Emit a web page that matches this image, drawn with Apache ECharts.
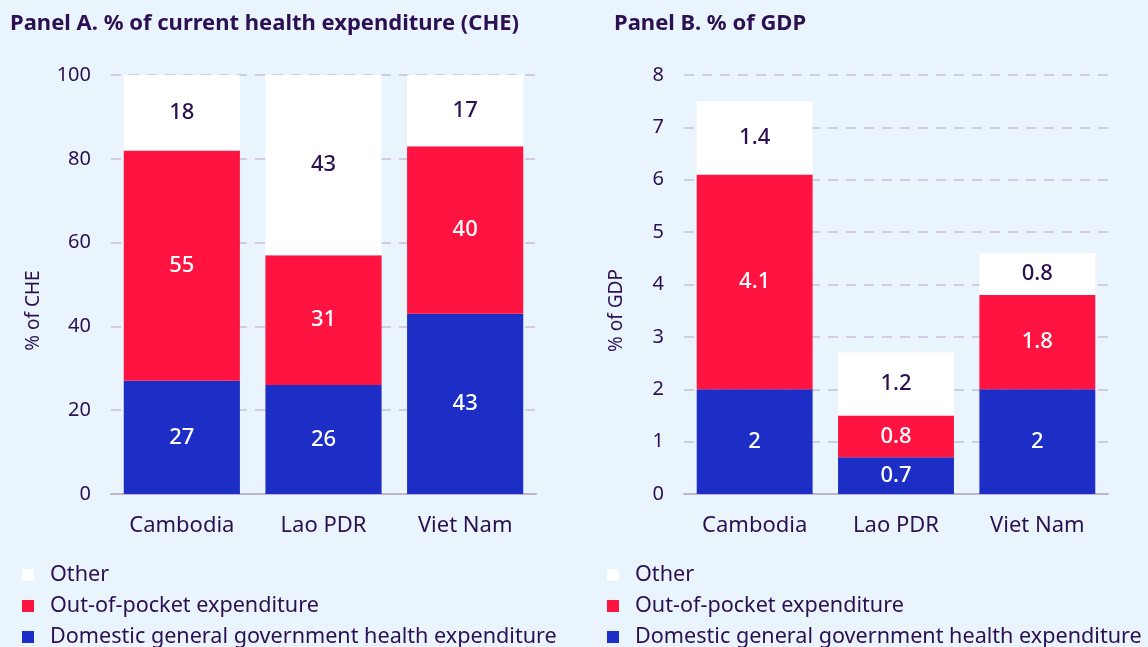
<!DOCTYPE html>
<html>
<head>
<meta charset="utf-8">
<script src="https://cdn.jsdelivr.net/npm/echarts@6/dist/echarts.min.js"></script>
<style>
  html, body { margin: 0; padding: 0; background: #eaf4fd; }
  #charts { width: 1148px; height: 647px; }
</style>
</head>
<body>
<div id="charts"></div>
<script>
var countries = ['Cambodia', 'Lao PDR', 'Viet Nam'];
var seriesNames = ['Domestic general government health expenditure', 'Out-of-pocket expenditure', 'Other'];

// Panel A: % of CHE
var cheGov = [27, 26, 43];
var cheOop = [55, 31, 40];
var cheOther = [18, 43, 17];

// Panel B: % of GDP
var gdpGov = [2, 0.7, 2];
var gdpOop = [4.1, 0.8, 1.8];
var gdpOther = [1.4, 1.2, 0.8];

var textColor = '#2b1052';
var colors = ['#1c2ec6', '#ff1441', '#ffffff'];
var font = 'Noto Sans';

var chart = echarts.init(document.getElementById('charts'));

function makeSeries(name, data, idx, color, labelColor) {
    return {
        name: name,
        type: 'bar',
        stack: 'p' + idx,
        xAxisIndex: idx,
        yAxisIndex: idx,
        data: data,
        barWidth: '82%',
        itemStyle: { color: color },
        label: {
            show: true,
            position: 'inside',
            color: labelColor,
            fontSize: 22,
            fontWeight: 500,
            fontFamily: font
        }
    };
}

function xAxis(idx) {
    return {
        type: 'category',
        gridIndex: idx,
        data: countries,
        axisTick: { show: false },
        axisLine: { lineStyle: { color: '#bdb3cf', width: 2 } },
        axisLabel: { color: textColor, fontSize: 22, fontFamily: font, margin: 21 }
    };
}

function yAxis(idx, max, interval, name) {
    return {
        type: 'value',
        gridIndex: idx,
        min: 0,
        max: max,
        interval: interval,
        name: name,
        nameLocation: 'middle',
        nameGap: idx === 0 ? 68 : 58,
        nameTextStyle: { color: textColor, fontSize: 19, fontFamily: font, padding: [0, 0, 0, -52] },
        axisLine: { show: false },
        axisTick: { show: false },
        axisLabel: { color: textColor, fontSize: 20, fontFamily: font, margin: 20 },
        splitLine: { lineStyle: { color: '#c9bfda', type: [10, 8], width: 1.5 } }
    };
}

function legend(left) {
    return {
        left: left,
        top: 559,
        height: 92,
        orient: 'vertical',
        itemWidth: 12,
        itemHeight: 12,
        itemGap: 9,
        icon: 'rect',
        data: ['Other', 'Out-of-pocket expenditure', 'Domestic general government health expenditure'],
        textStyle: { color: textColor, fontSize: 21.6, lineHeight: 22, fontFamily: font, padding: [0, 0, 0, 11] }
    };
}

var option = {
    backgroundColor: '#eaf4fd',
    animation: false,
    title: [
        { text: 'Panel A. % of current health expenditure (CHE)', left: 5, top: 8,
          textStyle: { color: textColor, fontSize: 22, fontWeight: 'bold', fontFamily: font } },
        { text: 'Panel B. % of GDP', left: 609, top: 8,
          textStyle: { color: textColor, fontSize: 22, fontWeight: 'bold', fontFamily: font } }
    ],
    legend: [legend(17), legend(602)],
    grid: [
        { left: 111, right: 612, top: 75, bottom: 153 },
        { left: 684, right: 40, top: 75, bottom: 153 }
    ],
    xAxis: [xAxis(0), xAxis(1)],
    yAxis: [yAxis(0, 100, 20, '% of CHE'), yAxis(1, 8, 1, '% of GDP')],
    series: [
        makeSeries(seriesNames[0], cheGov, 0, colors[0], '#ffffff'),
        makeSeries(seriesNames[1], cheOop, 0, colors[1], '#ffffff'),
        makeSeries(seriesNames[2], cheOther, 0, colors[2], textColor),
        makeSeries(seriesNames[0], gdpGov, 1, colors[0], '#ffffff'),
        makeSeries(seriesNames[1], gdpOop, 1, colors[1], '#ffffff'),
        makeSeries(seriesNames[2], gdpOther, 1, colors[2], textColor)
    ]
};

chart.setOption(option);
</script>
</body>
</html>
